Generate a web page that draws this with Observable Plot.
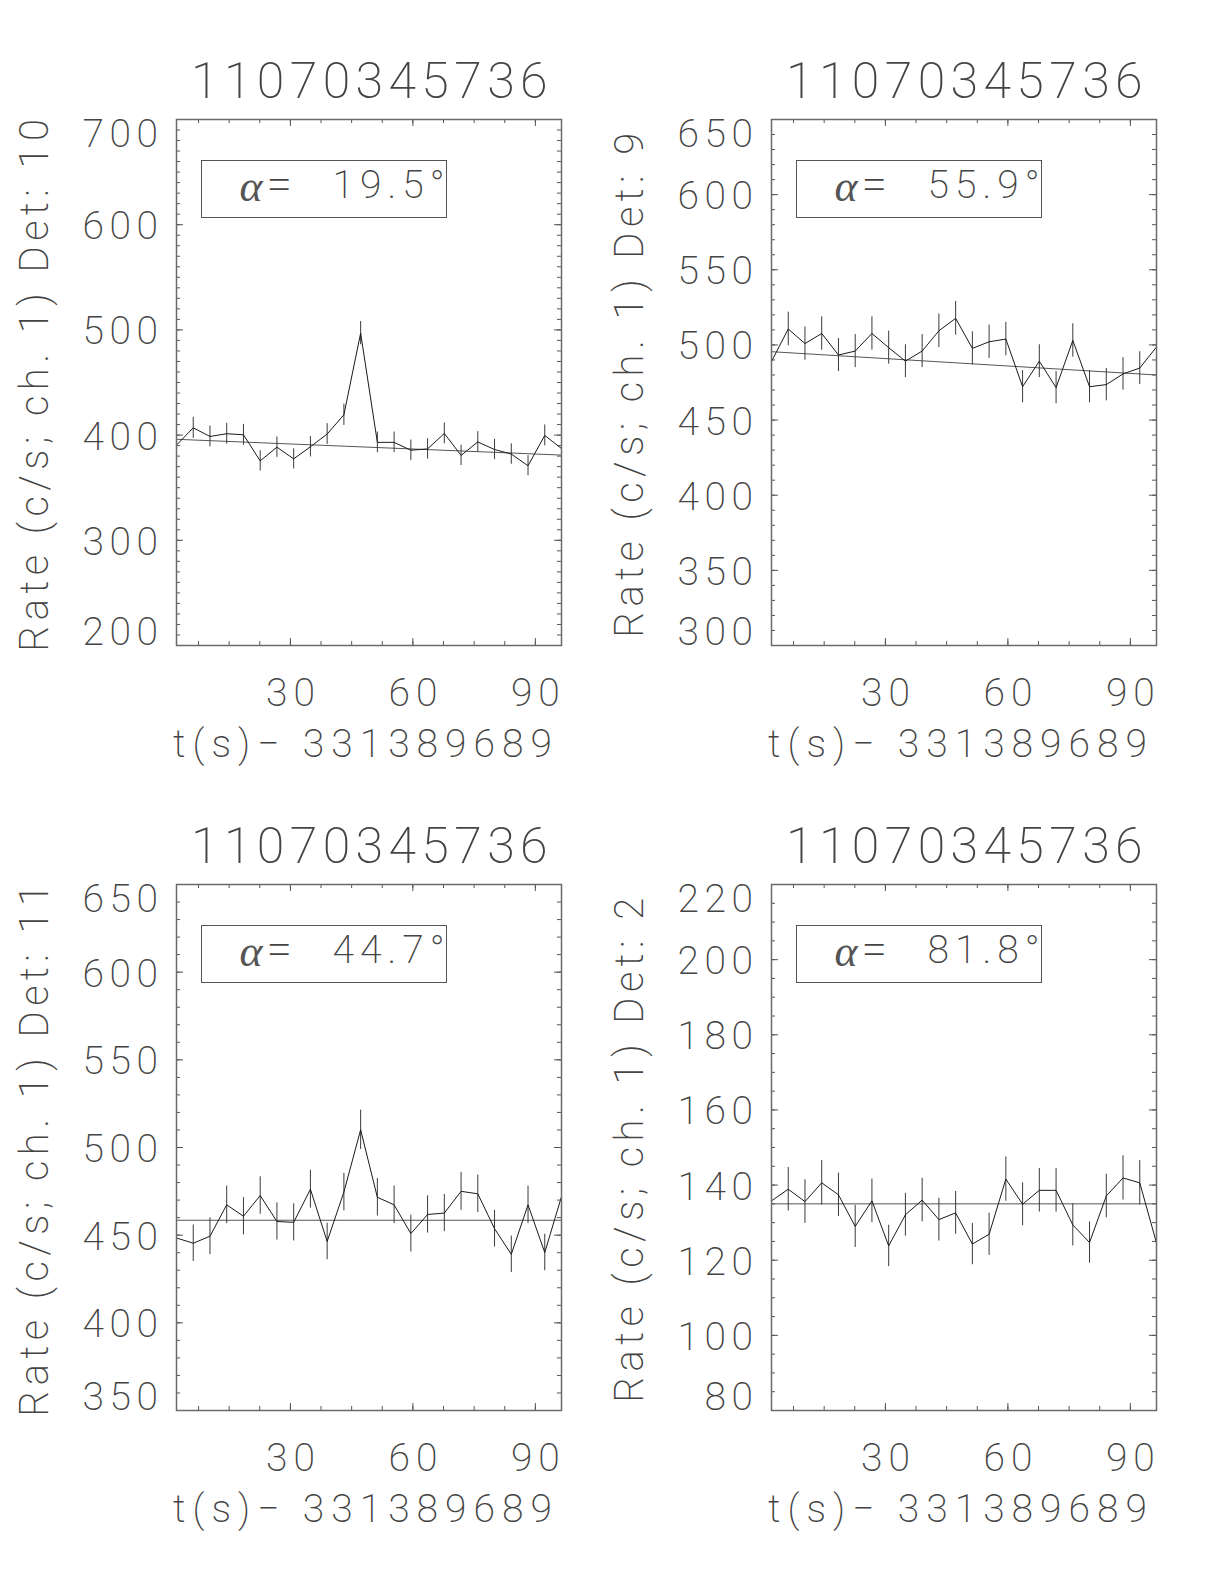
<!DOCTYPE html>
<html><head><meta charset="utf-8">
<script src="https://cdn.jsdelivr.net/npm/d3@7"></script>
<script src="https://cdn.jsdelivr.net/npm/@observablehq/plot@0.6"></script>
<style>
body{margin:0;background:#fff;}
#fig{position:relative;width:1224px;height:1584px;background:#fff;overflow:hidden;}
#fig svg{position:absolute;}
</style></head><body><div id="fig"></div>
<script>
// ---------------- data ----------------
const runId = "11070345736";
const xTitle = "t(s)\u2212\u00a0331389689";
const times = [2.1, 6.2, 10.3, 14.4, 18.5, 22.6, 26.7, 30.8, 34.9, 39.0, 43.1, 47.2,
               51.3, 55.4, 59.5, 63.6, 67.7, 71.8, 75.9, 80.0, 84.1, 88.2, 92.3, 96.4];
const xMajorTicks = [30, 60, 90];
const xTickLabels = ["30", "60", "90"];

const det10Rate = [390.5, 406.9, 398.7, 401.3, 400.3, 375.5, 388.5, 377.4, 388.9, 401.0, 419.3, 496.9,
                   393.1, 393.1, 385.6, 386.9, 401.6, 380.7, 393.5, 386.3, 382.0, 370.9, 399.7, 387.2];
const det10Err  = [9.8, 10.0, 9.9, 9.9, 9.9, 9.6, 9.7, 9.6, 9.7, 9.9, 10.1, 11.0,
                   9.8, 9.8, 9.7, 9.7, 9.9, 9.6, 9.8, 9.7, 9.7, 9.5, 9.9, 9.8];
const det10Fit  = [396, 381];

const det9Rate = [489.0, 510.6, 500.9, 507.6, 493.3, 495.9, 507.6, 498.2, 489.2, 495.9, 509.4, 517.7,
                  497.7, 502.1, 503.9, 472.2, 489.2, 471.6, 503.0, 472.2, 473.6, 480.7, 484.6, 498.6];
const det9Err  = [10.9, 11.2, 11.1, 11.1, 11.0, 11.0, 11.1, 11.0, 10.9, 11.0, 11.2, 11.2,
                  11.0, 11.1, 11.1, 10.7, 10.9, 10.7, 11.1, 10.7, 10.8, 10.8, 10.9, 11.0];
const det9Fit  = [495.5, 480];

const det11Rate = [448.4, 445.4, 449.4, 467.3, 460.8, 472.6, 457.8, 457.3, 476.2, 446.4, 474.6, 510.1,
                   471.6, 467.3, 450.9, 461.8, 462.6, 475.0, 473.6, 453.7, 439.1, 467.3, 440.1, 472.0];
const det11Err  = [10.5, 10.4, 10.5, 10.7, 10.6, 10.7, 10.6, 10.6, 10.8, 10.4, 10.7, 11.2,
                   10.7, 10.7, 10.5, 10.6, 10.6, 10.8, 10.7, 10.5, 10.4, 10.7, 10.4, 10.7];
const det11Fit  = [458.5, 458.5];

const det2Rate = [135.8, 138.9, 135.6, 140.6, 137.4, 129.0, 135.8, 123.8, 132.1, 136.0, 130.8, 132.6,
                  124.3, 126.9, 141.6, 134.9, 138.6, 138.6, 129.4, 124.7, 137.1, 141.9, 140.6, 124.6];
const det2Err  = [5.8, 5.8, 5.8, 5.9, 5.8, 5.6, 5.8, 5.5, 5.7, 5.8, 5.7, 5.7,
                  5.5, 5.6, 5.9, 5.7, 5.8, 5.8, 5.6, 5.5, 5.8, 5.9, 5.9, 5.5];
const det2Fit  = [135, 135];

const detectors = ["10", "9", "11", "2"];
const angles = ["19.5", "55.9", "44.7", "81.8"];
const yDomains = [[200, 700], [300, 650], [350, 650], [80, 220]];
const yMajorTicks = [
  [200, 300, 400, 500, 600, 700],
  [300, 350, 400, 450, 500, 550, 600, 650],
  [350, 400, 450, 500, 550, 600, 650],
  [80, 100, 120, 140, 160, 180, 200, 220]
];
const yMinorSteps = [10, 10, 10, 5];
const rates = [det10Rate, det9Rate, det11Rate, det2Rate];
const errs = [det10Err, det9Err, det11Err, det2Err];
const fits = [det10Fit, det9Fit, det11Fit, det2Fit];

// ---------------- layout ----------------
const FONT = "Roboto, 'DejaVu Sans', sans-serif";
const TXT = "#444";
const FW = 200;
const W = 385, H = 526, SVGW = 612, SVGH = 765;
const lefts = [176, 159, 176, 159];
const offsets = [[0, 0], [612, 0], [0, 765], [612, 765]];
const xDomain = [times[0], times[times.length - 1]];
const xMinorTicks = d3.range(7.5, 96, 7.5);

const fig = document.getElementById("fig");

for (let p = 0; p < 4; p++) {
  const rows = times.map((t, i) => ({t, rate: rates[p][i], err: errs[p][i]}));
  const fitRows = [{t: xDomain[0], v: fits[p][0]}, {t: xDomain[1], v: fits[p][1]}];
  const [y0, y1] = yDomains[p];
  const yMinor = d3.range(y0, y1 + 1e-9, yMinorSteps[p]);
  const yMaj = yMajorTicks[p];
  const yMid = yMaj.slice(1, -1);
  const tickStroke = "#555";
  const ml = lefts[p];
  const common = {fontWeight: FW, fill: TXT, lineAnchor: "middle"};

  const svg = Plot.plot({
    width: SVGW, height: SVGH,
    marginLeft: ml, marginRight: SVGW - ml - W, marginTop: 119, marginBottom: SVGH - 119 - H,
    x: {domain: xDomain, axis: null},
    y: {domain: yDomains[p], axis: null},
    style: {fontFamily: FONT, background: "transparent", overflow: "visible"},
    marks: [
      // ticks (inward, all four sides)
      Plot.ruleX(xMinorTicks, {x: d => d, insetTop: H - 4, stroke: tickStroke}),
      Plot.ruleX(xMinorTicks, {x: d => d, insetBottom: H - 4, stroke: tickStroke}),
      Plot.ruleX(xMajorTicks, {x: d => d, insetTop: H - 7, stroke: tickStroke}),
      Plot.ruleX(xMajorTicks, {x: d => d, insetBottom: H - 7, stroke: tickStroke}),
      Plot.ruleY(yMinor, {y: d => d, insetRight: W - 4, stroke: tickStroke}),
      Plot.ruleY(yMinor, {y: d => d, insetLeft: W - 4, stroke: tickStroke}),
      Plot.ruleY(yMaj, {y: d => d, insetRight: W - 7, stroke: tickStroke}),
      Plot.ruleY(yMaj, {y: d => d, insetLeft: W - 7, stroke: tickStroke}),
      // legend box
      Plot.frame({insetLeft: 25, insetRight: W - 270, insetTop: 41, insetBottom: H - 98, stroke: "#555", strokeWidth: 1}),
      // fit line
      Plot.line(fitRows, {x: "t", y: "v", stroke: "#555", strokeWidth: 1}),
      // error bars
      Plot.ruleX(rows, {x: "t", y1: d => d.rate - d.err, y2: d => d.rate + d.err, stroke: "#3a3a3a", strokeWidth: 1}),
      // light curve
      Plot.line(rows, {x: "t", y: "rate", stroke: "#1a1a1a", strokeWidth: 1}),
      // frame
      Plot.frame({stroke: "#6a6a6a", strokeWidth: 1.5}),
      // y tick labels
      Plot.text(yMid, {y: d => d, text: d => String(d), frameAnchor: "left", dx: -13, dy: 2, textAnchor: "end",
        fontSize: 39, ...common}),
      Plot.text([yMaj[0]], {y: d => d, text: d => String(d), frameAnchor: "left", dx: -13, dy: -13, textAnchor: "end",
        fontSize: 39, ...common}),
      Plot.text([yMaj[yMaj.length - 1]], {y: d => d, text: d => String(d), frameAnchor: "left", dx: -13, dy: 15, textAnchor: "end",
        fontSize: 39, ...common}),
      // x tick labels
      Plot.text(xMajorTicks, {x: d => d, text: (d, i) => xTickLabels[i], frameAnchor: "bottom", dy: 48, dx: 3,
        textAnchor: "middle", fontSize: 39, ...common}),
      // x title
      Plot.text([xTitle], {frameAnchor: "bottom", dy: 99, dx: -3, textAnchor: "middle", fontSize: 39, ...common}),
      // panel title
      Plot.text([runId], {frameAnchor: "top", dy: -38, dx: 3, textAnchor: "middle", fontSize: 50, ...common}),
      // y title
      Plot.text([`Rate (c/s; ch. 1) Det: ${detectors[p]}`], {frameAnchor: "left", dx: -141, rotate: -90,
        textAnchor: "middle", fontSize: 40, ...common}),
      // legend text
      Plot.text(["\u03b1"], {frameAnchor: "top-left", dx: 63, dy: 67, textAnchor: "start", fontSize: 44,
        fontFamily: "'Liberation Serif', 'DejaVu Serif', serif", fontStyle: "italic", fontWeight: 400,
        fill: "#555", lineAnchor: "middle"}),
      Plot.text(["="], {frameAnchor: "top-left", dx: 90, dy: 66, textAnchor: "start", fontSize: 46, ...common}),
      Plot.text([`${angles[p]}\u00b0`], {frameAnchor: "top-left", dx: 156, dy: 66, textAnchor: "start", fontSize: 39, ...common})
    ]
  });
  svg.style.left = offsets[p][0] + "px";
  svg.style.top = offsets[p][1] + "px";
  // Hershey-like wide letter spacing, chosen by text role
  d3.select(svg).selectAll("text").each(function() {
    const t = this.textContent;
    let ls = null;
    if (t === runId) ls = "5.4px";
    else if (t.startsWith("Rate")) ls = "5.5px";
    else if (t.startsWith("t(s)")) ls = "7px";
    else if (t.endsWith("\u00b0")) ls = "6px";
    else if (/^\d+$/.test(t)) ls = yMaj.includes(+t) ? "5.5px" : "6px";
    if (ls) this.style.letterSpacing = ls;
  });
  fig.appendChild(svg);
}
</script></body></html>
